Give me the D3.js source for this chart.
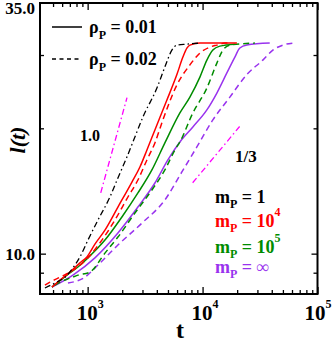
<!DOCTYPE html>
<html>
<head>
<meta charset="utf-8">
<script src="https://cdn.jsdelivr.net/npm/d3@7"></script>
<style>
    body { margin: 0; background: #fff; }
    svg { display: block; font-family: "Liberation Serif", "DejaVu Serif", serif; font-weight: bold; }
</style>
</head>
<body>
<div id="chart"></div>
<script>
// CHART DATA (t, l(t))
// m_P = 1 (dash-dot)
const blackT = [425, 520, 635, 745, 857, 1006, 1229, 1563, 1834, 2197, 2578, 3027, 4006, 4699, 5408, 5977, 7302, 9480];
const blackL = [8.27, 8.50, 8.78, 9.24, 9.82, 10.78, 12.04, 13.68, 15.20, 17.07, 19.07, 21.30, 24.99, 28.08, 30.83, 31.69, 31.86, 32.04];

// m_P = 10^4
const redSolidT = [489, 574, 702, 857, 986, 1157, 1414, 1834, 2428, 2850, 3280, 3848, 4894, 5977, 6741, 7302, 7757, 9480, 19880];
const redSolidL = [8.31, 8.64, 9.03, 9.50, 9.82, 10.54, 11.39, 12.94, 14.86, 16.15, 17.74, 19.82, 23.39, 26.93, 29.66, 31.18, 31.69, 32.04, 32.04];
const redDashT = [425, 470, 574, 702, 1006, 1331, 1727, 2241, 2738, 3280, 3848, 4516, 5977, 7757, 9480, 11570, 13315, 15630, 17280];
const redDashL = [8.40, 8.54, 8.78, 9.03, 9.77, 10.78, 12.04, 13.68, 15.03, 16.79, 18.45, 20.95, 25.42, 28.40, 30.33, 31.34, 31.69, 32.04, 32.04];

// m_P = 10^5
const greenSolidT = [489, 661, 823, 1006, 1414, 1987, 2738, 3624, 4699, 6349, 7757, 9480, 10900, 12290, 14130, 19100];
const greenSolidL = [8.31, 8.88, 9.29, 9.77, 10.78, 12.25, 13.99, 15.89, 18.45, 21.78, 23.77, 26.54, 29.17, 30.83, 31.51, 31.86];
const greenDashT = [520, 598, 702, 823, 1047, 1414, 1834, 2578, 3624, 4699, 5742, 6349, 8235, 10900, 13315, 15020, 17280, 28500];
const greenDashL = [8.40, 8.59, 8.73, 8.88, 9.03, 10.03, 10.96, 12.52, 14.22, 15.89, 17.74, 18.55, 21.78, 24.99, 28.69, 30.83, 31.69, 32.04];

// m_P = infinity
const purpleSolidT = [489, 745, 1157, 1834, 2738, 3848, 4991, 6349, 8235, 10900, 13315, 16270, 19100, 21100, 24280, 38400];
const purpleSolidL = [8.31, 8.88, 9.77, 11.21, 12.94, 14.78, 16.79, 18.55, 20.15, 22.14, 24.31, 27.17, 29.66, 31.18, 31.69, 32.04];
const purpleDashT = [674, 947, 1229, 1834, 2967, 4699, 6607, 8920, 12290, 17280, 24280, 33440, 40870, 49920, 60990];
const purpleDashL = [8.50, 8.78, 9.39, 10.49, 11.84, 13.46, 15.71, 18.04, 20.95, 23.77, 26.93, 29.17, 30.83, 31.69, 32.04];

// Guide lines with slopes 1.0 and 1/3
const guideOneT = [1300, 2200];
const guideOneL = [14.0, 23.7];
const guideThirdT = [8200, 21000];
const guideThirdL = [14.8, 20.2];

// Axis ticks and labels
const xMajorTicks = [1e3, 1e4, 1e5];
const xMinorTicks = [500, 600, 700, 800, 900, 2000, 3000, 4000, 5000, 6000, 7000, 8000, 9000,
    20000, 30000, 40000, 50000, 60000, 70000, 80000, 90000];
const xTickExponents = ["3", "4", "5"];
const yMajorTicks = [10];
const yMinorTicks = [9, 20, 30];
const yLabelValues = [40, 10];
const yLabelTexts = ["35.0", "10.0"];

// Legend entries
const rhoLabels = ["0.01", "0.02"];
const mBases = ["1", "10", "10", "\u221e"];
const mExponents = ["", "4", "5", ""];
const mColors = ["#000000", "#ff0000", "#008c00", "#9933ee"];

// SETUP
const width = 332, height = 343;
const plot = {left: 40, right: 317.5, top: 3, bottom: 294};

const svg = d3.select("#chart").append("svg")
    .attr("width", width)
    .attr("height", height);

const x = d3.scaleLog().domain([385, 1e5]).range([plot.left, plot.right]);
const y = d3.scaleLog().domain([8, 40]).range([plot.bottom, plot.top]);

svg.append("clipPath").attr("id", "clip")
    .append("rect")
    .attr("x", plot.left).attr("y", plot.top)
    .attr("width", plot.right - plot.left).attr("height", plot.bottom - plot.top);

// CURVES
const zip = (ts, ls) => ts.map((t, i) => ({t: t, l: ls[i]}));
const line = d3.line().x(d => x(d.t)).y(d => y(d.l)).curve(d3.curveMonotoneX);

const series = [
    {data: zip(guideOneT, guideOneL), color: "#ff00ff", dash: "6,3,1.5,3", w: 1.3},
    {data: zip(guideThirdT, guideThirdL), color: "#ff00ff", dash: "6,3,1.5,3", w: 1.3},
    {data: zip(purpleDashT, purpleDashL), color: mColors[3], dash: "6,4", w: 1.5},
    {data: zip(purpleSolidT, purpleSolidL), color: mColors[3], dash: null, w: 1.5},
    {data: zip(greenDashT, greenDashL), color: mColors[2], dash: "6,4", w: 1.5},
    {data: zip(greenSolidT, greenSolidL), color: mColors[2], dash: null, w: 1.5},
    {data: zip(redDashT, redDashL), color: mColors[1], dash: "6,4", w: 1.5},
    {data: zip(redSolidT, redSolidL), color: mColors[1], dash: null, w: 1.5},
    {data: zip(blackT, blackL), color: "#000", dash: "6,3,1.5,3", w: 1.3}
];

svg.append("g").attr("clip-path", "url(#clip)")
    .selectAll("path")
    .data(series)
    .enter().append("path")
    .attr("d", d => line(d.data))
    .attr("fill", "none")
    .attr("stroke", d => d.color)
    .attr("stroke-width", d => d.w)
    .attr("stroke-dasharray", d => d.dash);

// AXES (ticks point inward, frame drawn as a box)
const addAxis = (axis, tx, ty) => {
    const g = svg.append("g").attr("transform", `translate(${tx},${ty})`).call(axis);
    g.select(".domain").remove();
    g.selectAll("line").attr("stroke", "#000").attr("stroke-width", 1.3);
    g.selectAll("text").remove();
};

addAxis(d3.axisBottom(x).tickValues(xMajorTicks).tickSize(-7), 0, plot.bottom);
addAxis(d3.axisBottom(x).tickValues(xMinorTicks).tickSize(-4), 0, plot.bottom);
addAxis(d3.axisTop(x).tickValues(xMajorTicks).tickSize(-7), 0, plot.top);
addAxis(d3.axisTop(x).tickValues(xMinorTicks).tickSize(-4), 0, plot.top);
addAxis(d3.axisLeft(y).tickValues(yMajorTicks).tickSize(-6), plot.left, 0);
addAxis(d3.axisLeft(y).tickValues(yMinorTicks).tickSize(-4), plot.left, 0);
addAxis(d3.axisRight(y).tickValues(yMajorTicks).tickSize(-6), plot.right, 0);
addAxis(d3.axisRight(y).tickValues(yMinorTicks).tickSize(-4), plot.right, 0);

svg.append("rect")
    .attr("x", plot.left).attr("y", plot.top)
    .attr("width", plot.right - plot.left).attr("height", plot.bottom - plot.top)
    .attr("fill", "none")
    .attr("stroke", "#000")
    .attr("stroke-width", 2);

// Tick labels (the last one sits at the right edge, pulled in a little)
const xLabels = svg.append("g").selectAll("text")
    .data(xMajorTicks)
    .enter().append("text")
    .attr("x", (d, i) => x(d) - (i === xMajorTicks.length - 1 ? 13 : 11))
    .attr("y", 320)
    .attr("font-size", 21);
xLabels.append("tspan").text("10");
xLabels.append("tspan").attr("font-size", 12).attr("dy", -12).text((d, i) => xTickExponents[i]);

svg.append("g").selectAll("text")
    .data(yLabelValues)
    .enter().append("text")
    .attr("x", 35)
    .attr("y", d => Math.max(y(d) + 6, 14))
    .attr("text-anchor", "end")
    .attr("font-size", 17)
    .text((d, i) => yLabelTexts[i]);

// Axis titles
svg.append("text")
    .attr("x", 180).attr("y", 338)
    .attr("text-anchor", "middle")
    .attr("font-size", 24)
    .text("t");

svg.append("text")
    .attr("transform", "translate(25,140) rotate(-90)")
    .attr("text-anchor", "middle")
    .attr("font-size", 22)
    .attr("font-style", "italic")
    .text("l(t)");

// LEGEND: density line styles
const rhoDash = [null, "4,3.5"];
rhoLabels.forEach((label, i) => {
    const ly = 27 + i * 32;
    svg.append("line")
        .attr("x1", 52).attr("x2", 82)
        .attr("y1", ly).attr("y2", ly)
        .attr("stroke", "#000")
        .attr("stroke-width", 1.5)
        .attr("stroke-dasharray", rhoDash[i]);
    const txt = svg.append("text")
        .attr("x", 89).attr("y", ly + 6)
        .attr("font-size", 18);
    txt.append("tspan").text("\u03c1");
    txt.append("tspan").attr("font-size", 12).attr("dy", 6).text("P");
    txt.append("tspan").attr("dy", -6).text(" = " + label);
});

// LEGEND: m_P colours
const mBaselines = [203, 227, 253, 273];
mBases.forEach((base, i) => {
    const txt = svg.append("text")
        .attr("x", 215).attr("y", mBaselines[i])
        .attr("font-size", 18)
        .attr("fill", mColors[i]);
    txt.append("tspan").text("m");
    txt.append("tspan").attr("font-size", 12).attr("dy", 5).text("P");
    txt.append("tspan").attr("dy", -5).text(" = " + base);
    if (mExponents[i]) {
        txt.append("tspan").attr("font-size", 12).attr("dy", -11).text(mExponents[i]);
    }
});

// Slope labels
svg.append("text").attr("x", 80).attr("y", 141).attr("font-size", 16).text("1.0");
svg.append("text").attr("x", 235).attr("y", 162).attr("font-size", 17).text("1/3");
</script>
</body>
</html>
